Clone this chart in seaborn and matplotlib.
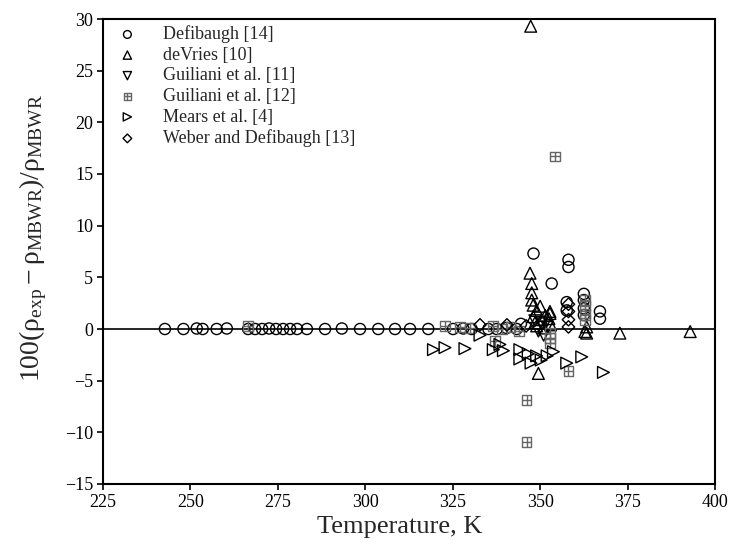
import matplotlib
matplotlib.use("Agg")
import matplotlib.pyplot as plt
from matplotlib.path import Path
import pandas as pd
import seaborn as sns

# Deviations of measured densities from the MBWR equation, by data source
defibaugh_T = [242.7, 248.0, 251.8, 253.5, 257.5, 260.4, 266.5, 268.5, 270.5, 272.5,
               274.5, 276.5, 278.5, 280.5, 283.3, 288.5, 293.3, 298.5, 303.7, 308.5,
               312.8, 318.0, 325.1, 328.0, 330.4, 335.2, 337.6, 340.4, 343.3, 344.5,
               348.1, 358.1, 358.1, 353.3, 362.5, 362.5, 362.5, 362.5, 357.6, 357.6,
               367.1, 367.1]
defibaugh_dev = [0.0, 0.0, 0.05, 0.0, 0.0, 0.05, 0.0, 0.0, 0.0, 0.05,
                 0.0, 0.0, 0.0, 0.0, 0.0, 0.0, 0.05, 0.0, 0.0, 0.0,
                 0.0, 0.0, 0.0, 0.05, 0.0, 0.0, 0.0, 0.1, 0.0, 0.5,
                 7.3, 6.7, 6.0, 4.4, 3.4, 2.8, 2.0, 1.35, 2.6, 1.8,
                 1.7, 1.0]

devries_T = [347.3, 347.1, 347.6, 347.6, 347.6, 348.0, 350.0, 352.8, 348.0, 350.5,
             349.0, 351.0, 352.5, 363.3, 363.3, 372.8, 392.9, 349.5, 352.8, 362.8,
             349.0, 351.5, 348.5, 353.0]
devries_dev = [29.3, 5.4, 4.4, 3.5, 2.8, 2.3, 2.2, 1.7, 1.2, 0.9,
               0.3, 0.1, 1.0, 0.2, -0.4, -0.4, -0.25, -4.3, 1.5, -0.25,
               1.8, 1.3, 0.6, 0.4]

guiliani11_T = [348.5, 349.5, 350.5, 351.0, 352.0]
guiliani11_dev = [0.8, -0.2, 0.5, -0.6, 0.2]

guiliani12_T = [266.5, 322.8, 327.0, 330.0, 336.5, 339.0, 341.5, 344.0, 346.1, 346.1,
                354.3, 352.8, 352.8, 352.8, 358.1, 362.8, 362.8, 362.8, 362.8, 337.0]
guiliani12_dev = [0.3, 0.3, 0.2, 0.1, 0.3, 0.0, 0.2, -0.2, -6.9, -10.9,
                  16.7, -0.4, -0.9, -1.4, -4.1, 2.8, 2.2, 1.5, 0.9, -1.2]

mears_T = [319.5, 322.8, 328.5, 332.8, 336.6, 338.5, 339.5, 344.2, 346.6, 349.0,
           344.2, 347.4, 350.3, 352.0, 353.8, 357.6, 361.9, 368.1]
mears_dev = [-2.0, -1.8, -1.9, -0.6, -2.0, -1.5, -2.1, -2.0, -2.4, -2.6,
             -2.9, -3.3, -3.0, -2.6, -2.2, -3.3, -2.7, -4.2]

weber_T = [332.8, 340.5, 346.0, 358.1, 358.1, 358.1, 358.1]
weber_dev = [0.4, 0.4, 0.3, 2.4, 1.7, 0.9, 0.2]

source_labels = ["Defibaugh [14]", "deVries [10]", "Guiliani et al. [11]",
                 "Guiliani et al. [12]", "Mears et al. [4]",
                 "Weber and Defibaugh [13]"]

x_ticks = [225, 250, 275, 300, 325, 350, 375, 400]
y_ticks = [-15, -10, -5, 0, 5, 10, 15, 20, 25, 30]

# Square with a cross inside, for the second Guiliani data set
boxed_plus = Path(
    [(-1, -1), (1, -1), (1, 1), (-1, 1), (-1, -1), (0, -1), (0, 1), (-1, 0), (1, 0)],
    [Path.MOVETO, Path.LINETO, Path.LINETO, Path.LINETO, Path.CLOSEPOLY,
     Path.MOVETO, Path.LINETO, Path.MOVETO, Path.LINETO],
)

series = [
    (source_labels[0], defibaugh_T, defibaugh_dev, "o", "black", 64),
    (source_labels[1], devries_T, devries_dev, "^", "black", 72),
    (source_labels[2], guiliani11_T, guiliani11_dev, "v", "black", 72),
    (source_labels[3], guiliani12_T, guiliani12_dev, boxed_plus, "#666666", 50),
    (source_labels[4], mears_T, mears_dev, ">", "black", 72),
    (source_labels[5], weber_T, weber_dev, "D", "black", 40),
]

frames = [pd.DataFrame({"source": name, "T": t, "dev": d})
          for name, t, d, *_ in series]
data = pd.concat(frames, ignore_index=True)

sns.set_style("ticks")
plt.rcParams.update({
    "font.family": ["Liberation Serif", "DejaVu Serif"],
    "mathtext.fontset": "custom",
    "mathtext.rm": "Liberation Serif",
    "mathtext.it": "Liberation Serif",
    "mathtext.bf": "Liberation Serif:bold",
    "axes.linewidth": 1.5,
    "axes.edgecolor": "black",
    "xtick.color": "black",
    "ytick.color": "black",
    "xtick.direction": "out",
    "ytick.direction": "out",
    "xtick.major.size": 4,
    "ytick.major.size": 4,
    "xtick.major.width": 1.2,
    "ytick.major.width": 1.2,
})

fig = plt.figure(figsize=(7.32, 5.45), dpi=100)
ax = fig.add_axes([103 / 732, 1 - 484 / 545, (715 - 103) / 732, (484 - 19) / 545])

ax.axhline(0, color="black", lw=1.2, zorder=1)

for name, t, d, marker, color, size in series:
    sub = data[data["source"] == name]
    sns.scatterplot(data=sub, x="T", y="dev", ax=ax, marker=marker, s=size,
                    color=color, facecolors="none", edgecolors=color,
                    linewidth=1.0, label=name, zorder=3)

ax.set_xlim(225, 400)
ax.set_ylim(-15, 30)
ax.set_xticks(x_ticks)
ax.set_yticks(y_ticks)
ax.tick_params(labelsize=13, pad=3)
for side in ("top", "right"):
    ax.spines[side].set_visible(True)

ax.set_xlabel("Temperature, K", fontsize=19)
ax.xaxis.set_label_coords(0.485, -0.068)
ax.set_ylabel(r"$100(\rho_{\mathrm{exp}} - \rho_{\mathrm{MBWR}})/\rho_{\mathrm{MBWR}}$",
              fontsize=20)
ax.yaxis.set_label_coords(-0.088, 0.53)

leg = ax.legend(loc="upper left", frameon=False, fontsize=13, markerscale=0.7,
                handletextpad=1.0, labelspacing=0.2, borderaxespad=0.15,
                borderpad=0.2)

fig.savefig("out.png", dpi=100)
